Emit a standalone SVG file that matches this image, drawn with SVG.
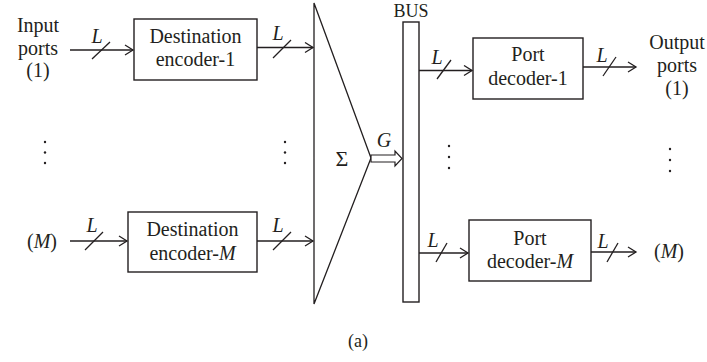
<svg xmlns="http://www.w3.org/2000/svg" width="707" height="362" viewBox="0 0 707 362">
<defs>
<style>
text{font-family:"Liberation Serif","DejaVu Serif",serif;font-size:20px;fill:#231f20;text-anchor:middle}
.it{font-style:italic}
.box{fill:#fff;stroke:#231f20;stroke-width:1.4}
.ln{fill:none;stroke:#231f20;stroke-width:1.3}
.ar{fill:none;stroke:#231f20;stroke-width:1.3;marker-end:url(#ah)}
.dot{fill:#231f20}
</style>
<marker id="ah" markerUnits="userSpaceOnUse" markerWidth="12" markerHeight="12" viewBox="-10 -6 12 12" refX="0" refY="0" orient="auto">
<path d="M-8,-5 L0,0 L-8,5" fill="none" stroke="#231f20" stroke-width="1.3"/>
</marker>
</defs>
<rect width="707" height="362" fill="#fff"/>

<g id="input-labels">
<text x="38" y="32">Input</text>
<text x="38" y="54.5">ports</text>
<text x="38" y="77">(1)</text>
<text x="42" y="248">(<tspan class="it">M</tspan>)</text>
</g>

<g id="encoder-1">
<rect class="box" x="134" y="19" width="123" height="61"/>
<text x="195.5" y="43">Destination</text>
<text x="195.5" y="66">encoder-1</text>
</g>

<g id="encoder-M">
<rect class="box" x="128" y="212" width="129" height="60"/>
<text x="192.5" y="236">Destination</text>
<text x="192.5" y="260">encoder-<tspan class="it">M</tspan></text>
</g>

<g id="summer">
<path class="ln" d="M314,3 L371,158 L314,304 Z" stroke-width="1.5"/>
<text x="342" y="166" style="font-size:22px">Σ</text>
</g>

<g id="bus">
<rect class="box" x="403" y="22" width="16" height="280"/>
<text x="411" y="17" style="font-size:18px">BUS</text>
</g>

<g id="decoder-1">
<rect class="box" x="473" y="38" width="110" height="61"/>
<text x="528" y="61">Port</text>
<text x="528" y="85">decoder-1</text>
</g>

<g id="decoder-M">
<rect class="box" x="469" y="220" width="122" height="61"/>
<text x="530" y="245">Port</text>
<text x="530" y="268">decoder-<tspan class="it">M</tspan></text>
</g>

<g id="output-labels">
<text x="677" y="49">Output</text>
<text x="677" y="72">ports</text>
<text x="677" y="95">(1)</text>
<text x="669" y="258">(<tspan class="it">M</tspan>)</text>
</g>

<g id="ellipses">
<circle class="dot" cx="45" cy="142" r="1.2"/><circle class="dot" cx="45" cy="152.5" r="1.2"/><circle class="dot" cx="45" cy="163" r="1.2"/>
<circle class="dot" cx="285" cy="142" r="1.2"/><circle class="dot" cx="285" cy="152.5" r="1.2"/><circle class="dot" cx="285" cy="163" r="1.2"/>
<circle class="dot" cx="449" cy="146" r="1.2"/><circle class="dot" cx="449" cy="157" r="1.2"/><circle class="dot" cx="449" cy="168" r="1.2"/>
<circle class="dot" cx="670" cy="149" r="1.2"/><circle class="dot" cx="670" cy="160" r="1.2"/><circle class="dot" cx="670" cy="171" r="1.2"/>
</g>

<g id="connectors">
<line class="ar" x1="70" y1="50" x2="133" y2="50"/>
<line class="ln" x1="92" y1="59" x2="110" y2="42"/>
<text class="it" x="97" y="43">L</text>

<line class="ar" x1="70" y1="241" x2="127" y2="241"/>
<line class="ln" x1="85" y1="250" x2="103" y2="232"/>
<text class="it" x="92" y="232">L</text>

<line class="ar" x1="257" y1="47.5" x2="313" y2="47.5"/>
<line class="ln" x1="273" y1="58" x2="291" y2="40"/>
<text class="it" x="278" y="40">L</text>

<line class="ar" x1="257" y1="241" x2="313" y2="241"/>
<line class="ln" x1="273" y1="250" x2="291" y2="232"/>
<text class="it" x="278" y="232">L</text>

<path d="M371,155 L395,155 L395,151 L402,158.5 L395,166 L395,162 L371,162 Z" fill="#fff" stroke="#231f20" stroke-width="1.2"/>
<text class="it" x="384" y="147">G</text>

<line class="ar" x1="419" y1="70.5" x2="472" y2="70.5"/>
<line class="ln" x1="437" y1="79" x2="451" y2="60"/>
<text class="it" x="437" y="64">L</text>

<line class="ar" x1="419" y1="253" x2="468" y2="253"/>
<line class="ln" x1="436" y1="262" x2="447" y2="243"/>
<text class="it" x="433" y="247">L</text>

<line class="ar" x1="583" y1="67" x2="636" y2="67"/>
<line class="ln" x1="603" y1="76" x2="616" y2="57"/>
<text class="it" x="602" y="62">L</text>

<line class="ar" x1="591" y1="252" x2="636" y2="252"/>
<line class="ln" x1="607" y1="262" x2="618" y2="243"/>
<text class="it" x="603" y="248">L</text>
</g>

<text x="358" y="347" style="font-size:18px">(a)</text>
</svg>
